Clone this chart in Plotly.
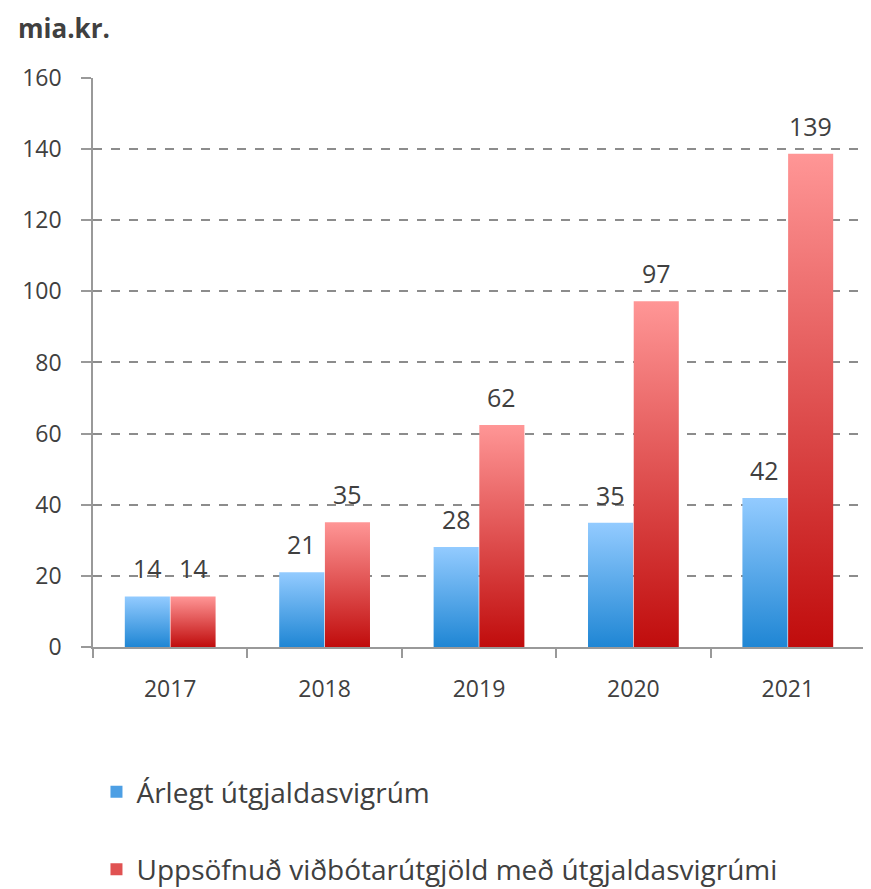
import plotly.graph_objects as go

categories = ["2017", "2018", "2019", "2020", "2021"]
annual = [14.2, 21.0, 28.1, 34.9, 41.9]
cumulative = [14.2, 35.1, 62.4, 97.2, 138.7]
series_names = ["Árlegt útgjaldasvigrúm", "Uppsöfnuð viðbótarútgjöld með útgjaldasvigrúmi"]
y_ticks = [0, 20, 40, 60, 80, 100, 120, 140, 160]

FONT = "'Open Sans', Lato, sans-serif"
TXT = "#404040"
blue_scale = [[0, "#1f86d4"], [1, "#93cbff"]]
red_scale = [[0, "#c00c0c"], [1, "#ff9696"]]
blue_solid = "#4d9fe4"
red_solid = "#e05252"

offset = 0.148
half = 0.146

fig = go.Figure()
annotations = []

def add_bars(values, shift, scale, name, group, solid):
    # legend swatch (square) for the series
    fig.add_trace(go.Bar(x=[None], y=[None], name=name, legendgroup=group,
                         marker=dict(color=solid, line=dict(width=0)), hoverinfo="skip"))
    for i, v in enumerate(values):
        xc = i + shift
        fig.add_trace(go.Scatter(
            x=[xc - half, xc + half, xc + half, xc - half, xc - half],
            y=[0, 0, v, v, 0],
            mode="lines", fill="toself",
            line=dict(width=0, color=solid),
            fillcolor=solid,
            fillgradient=dict(type="vertical", colorscale=scale),
            name=name, legendgroup=group, showlegend=False,
            hoverinfo="text", hovertext=f"{categories[i]}: {v}",
        ))
        annotations.append(dict(
            x=xc, y=v, xref="x", yref="y", text=f"{v:.0f}", showarrow=False,
            yanchor="bottom", yshift=9,
            font=dict(family=FONT, size=25, color=TXT)))

add_bars(annual, -offset, blue_scale, series_names[0], "a", blue_solid)
add_bars(cumulative, offset, red_scale, series_names[1], "b", red_solid)

annotations.append(dict(text="<b>mia.kr.</b>", xref="paper", yref="paper",
                        x=-0.0997, y=1.0112, xanchor="left", yanchor="top",
                        showarrow=False, font=dict(family=FONT, size=26, color=TXT)))

fig.update_layout(
    width=871, height=889,
    margin=dict(l=85, r=14, t=10, b=10, autoexpand=False),
    paper_bgcolor="white", plot_bgcolor="white",
    font=dict(family=FONT, color=TXT, size=20),
    annotations=annotations,
    legend=dict(x=0.0045, y=0.138, xanchor="left", yanchor="top",
                orientation="v", tracegroupgap=38,
                font=dict(family=FONT, size=28, color=TXT),
                itemwidth=30),
)
fig.update_xaxes(
    range=[-0.5, 4.5], automargin=False,
    tickmode="array", tickvals=list(range(len(categories))), ticktext=categories,
    ticks="", showgrid=False, zeroline=False,
    showline=True, linecolor="#999999", linewidth=1.5,
    tickfont=dict(family=FONT, size=23, color=TXT), ticklabelstandoff=21,
    minor=dict(tick0=0.5, dtick=1, ticks="outside", ticklen=9, tickcolor="#999999", tickwidth=1.5),
    fixedrange=True,
)
fig.update_yaxes(
    range=[0, 160], tickmode="array", tickvals=y_ticks, automargin=False,
    domain=[0.2762, 0.931],
    ticks="outside", ticklen=10, tickcolor="#999999", tickwidth=1.5,
    showgrid=True, gridcolor="#8c8c8c", griddash="dash", gridwidth=1.5,
    zeroline=False, showline=True, linecolor="#999999", linewidth=1.5,
    tickfont=dict(family=FONT, size=23, color=TXT), ticklabelstandoff=15,
    fixedrange=True,
)

fig.write_html("out.html")
